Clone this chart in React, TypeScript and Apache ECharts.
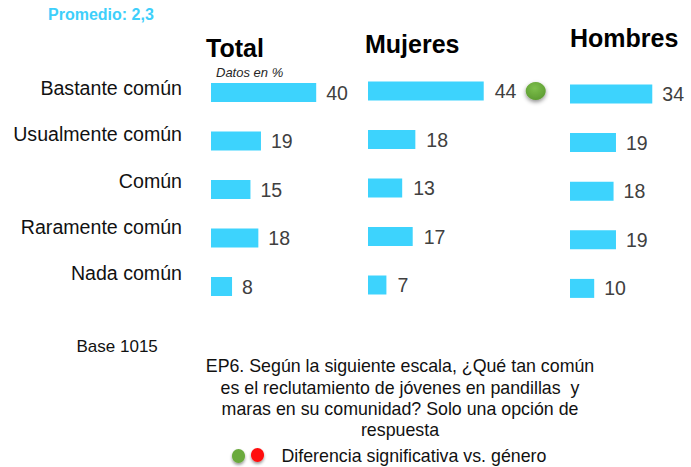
import React, { useEffect, useRef } from "react";
import * as echarts from "echarts";

const categories = ["Bastante común", "Usualmente común", "Común", "Raramente común", "Nada común"];
const totalValues = [40, 19, 15, 18, 8];
const mujeresValues = [44, 18, 13, 17, 7];
const hombresValues = [34, 19, 18, 19, 10];
const panelTitles = ["Total", "Mujeres", "Hombres"];
const questionLines = [
  "EP6. Según la siguiente escala, ¿Qué tan común",
  "es el reclutamiento de jóvenes en pandillas  y",
  "maras en su comunidad? Solo una opción de",
  "respuesta",
];

const BAR = "#3DD3FD";
const FONT = "Arial, 'Liberation Sans', sans-serif";

export default function App() {
  const ref = useRef<HTMLDivElement>(null);
  useEffect(() => {
    document.body.style.margin = "0";
    const chart = echarts.init(ref.current!, undefined, { renderer: "svg" });
    const grids = [
      { left: 211, top: 68.25, width: 131.5, height: 242.5 },
      { left: 368, top: 66.75, width: 131.5, height: 242.5 },
      { left: 570, top: 69.7, width: 131.5, height: 243 },
      // label-only grid (category labels sit a little above the bars)
      { left: 211, top: 65, width: 131.5, height: 231.5 },
    ];
    const seriesData = [totalValues, mujeresValues, hombresValues];
    const option: any = {
      animation: false,
      backgroundColor: "#ffffff",
      textStyle: { fontFamily: FONT },
      grid: grids.map((g) => ({ ...g, containLabel: false })),
      xAxis: grids.map((_, i) => ({
        type: "value",
        gridIndex: i,
        min: 0,
        max: 50,
        show: false,
      })),
      yAxis: grids.map((_, i) => ({
        type: "category",
        gridIndex: i,
        data: categories,
        inverse: true,
        axisLine: { show: false },
        axisTick: { show: false },
        splitLine: { show: false },
        axisLabel: {
          show: i === 3,
          margin: 29,
          fontSize: 19.6,
          color: "#111111",
          fontFamily: FONT,
        },
      })),
      series: seriesData.map((vals, i) => ({
        type: "bar",
        xAxisIndex: i,
        yAxisIndex: i,
        data: vals,
        barWidth: 19,
        itemStyle: { color: BAR },
        label: {
          show: true,
          position: "right",
          distance: i === 1 ? 11 : 10,
          fontSize: 19.5,
          color: "#404040",
          fontFamily: FONT,
        },
        markPoint:
          i === 1
            ? {
                symbol: "circle",
                symbolSize: [20, 18],
                symbolOffset: [52, 0],
                label: { show: false },
                itemStyle: {
                  color: {
                    type: "radial",
                    x: 0.45,
                    y: 0.35,
                    r: 0.7,
                    colorStops: [
                      { offset: 0, color: "#7dbf4c" },
                      { offset: 1, color: "#5b9a30" },
                    ],
                  },
                  shadowColor: "rgba(0,0,0,0.45)",
                  shadowBlur: 4,
                  shadowOffsetY: 2,
                },
                data: [{ coord: [vals[0], categories[0]] }],
              }
            : undefined,
      })),
      graphic: [
        {
          type: "text",
          x: 48,
          y: 14,
          style: {
            text: "Promedio: 2,3",
            fontSize: 16,
            fontWeight: "bold",
            fill: "#3ECFFB",
            fontFamily: FONT,
            textVerticalAlign: "middle",
          },
        },
        {
          type: "text",
          x: 206,
          y: 48,
          style: { text: panelTitles[0], fontSize: 25, fontWeight: "bold", fill: "#000", fontFamily: FONT, textVerticalAlign: "middle" },
        },
        {
          type: "text",
          x: 365,
          y: 44,
          style: { text: panelTitles[1], fontSize: 25, fontWeight: "bold", fill: "#000", fontFamily: FONT, textVerticalAlign: "middle" },
        },
        {
          type: "text",
          x: 570,
          y: 37.5,
          style: { text: panelTitles[2], fontSize: 25, fontWeight: "bold", fill: "#000", fontFamily: FONT, textVerticalAlign: "middle" },
        },
        {
          type: "text",
          x: 216,
          y: 72,
          style: { text: "Datos en %", fontSize: 13, fontStyle: "italic", fill: "#262626", fontFamily: FONT, textVerticalAlign: "middle" },
        },
        {
          type: "text",
          x: 76.5,
          y: 346.5,
          style: { text: "Base 1015", fontSize: 17, fill: "#111", fontFamily: FONT, textVerticalAlign: "middle" },
        },
        ...questionLines.map((t, k) => ({
          type: "text",
          x: 400,
          y: [365.5, 387.5, 408.5, 430][k],
          style: { text: t, fontSize: 17.8, fill: "#111", fontFamily: FONT, textAlign: "center", textVerticalAlign: "middle" },
        })),
        {
          type: "ellipse",
          shape: { cx: 238.5, cy: 456, rx: 6.5, ry: 7 },
          style: { fill: "#6aaa3e", shadowColor: "rgba(0,0,0,0.4)", shadowBlur: 3, shadowOffsetY: 2 },
        },
        {
          type: "ellipse",
          shape: { cx: 257.5, cy: 455, rx: 6.5, ry: 7 },
          style: { fill: "#ff1010", shadowColor: "rgba(0,0,0,0.4)", shadowBlur: 3, shadowOffsetY: 2 },
        },
        {
          type: "text",
          x: 281.5,
          y: 455.5,
          style: { text: "Diferencia significativa vs. género", fontSize: 17.8, fill: "#111", fontFamily: FONT, textVerticalAlign: "middle" },
        },
      ],
    };
    chart.setOption(option);
    return () => chart.dispose();
  }, []);
  return <div ref={ref} style={{ width: 691, height: 467 }} />;
}
